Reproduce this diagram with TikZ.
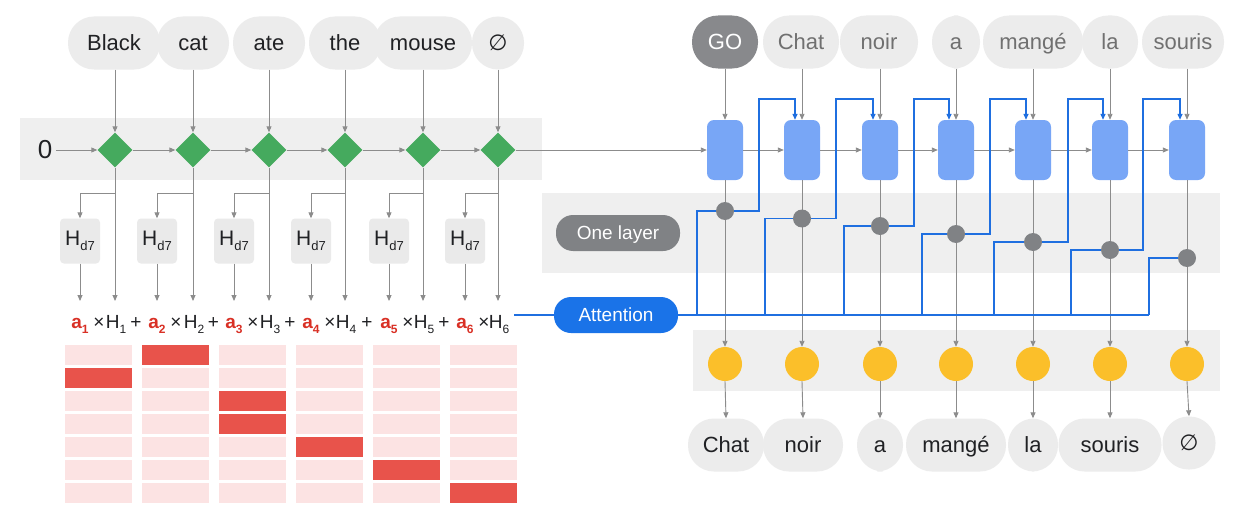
\documentclass[tikz,border=0pt]{standalone}
\usepackage{fontspec}
\setmainfont{Liberation Sans}
\newfontfamily\symf{DejaVu Sans}
\usetikzlibrary{arrows.meta,shapes.geometric,calc}
\definecolor{band}{HTML}{EFEFEF}
\definecolor{pillc}{HTML}{ECECEC}
\definecolor{gofill}{HTML}{88898C}
\definecolor{grn}{HTML}{45AA5E}
\definecolor{boxb}{HTML}{78A6F6}
\definecolor{lineb}{HTML}{1F6FE0}
\definecolor{attb}{HTML}{1A73E8}
\definecolor{ylw}{HTML}{FBBF2A}
\definecolor{dotg}{HTML}{808285}
\definecolor{arrg}{HTML}{8C8C8C}
\definecolor{ared}{HTML}{D93025}
\definecolor{cellL}{HTML}{FCE3E3}
\definecolor{cellD}{HTML}{E8534B}
\definecolor{hbox}{HTML}{EAEAEA}
\definecolor{txtg}{HTML}{707070}
\definecolor{txtk}{HTML}{202124}
\begin{document}
\begin{tikzpicture}[x=1pt,y=-1pt,
  arr/.style={draw=arrg, line width=0.9pt, -{Triangle[length=6pt,width=5pt]}},
  bl/.style={draw=lineb, line width=1.3pt},
  pill/.style={fill=pillc, rounded corners=26pt, minimum height=53pt, inner sep=0pt, text height=15pt, text depth=0pt, text=txtk, font=\fontsize{22}{26}\selectfont},
  tpill/.style={pill, text=txtg},
  gem/.style={diamond, fill=grn, minimum width=35pt, minimum height=35pt, inner sep=0pt},
  hb/.style={fill=hbox, rounded corners=4pt, minimum width=40pt, minimum height=45pt, inner sep=0pt, text=txtk, font=\fontsize{21}{24}\selectfont},
  rnn/.style={fill=boxb, rounded corners=7pt, minimum width=36pt, minimum height=60pt, inner sep=0pt},
  gdot/.style={circle, fill=dotg, minimum size=18pt, inner sep=0pt},
  ydot/.style={circle, fill=ylw, minimum size=34pt, inner sep=0pt},
  fm/.style={inner sep=0pt, text=txtk, font=\fontsize{19}{21}\selectfont, anchor=base},
  tag/.style={rounded corners=17pt, minimum width=124pt, minimum height=36pt, inner sep=0pt, text height=13.5pt, text depth=0pt, text=white, font=\fontsize{19}{22}\selectfont},
]
\useasboundingbox (0,0) rectangle (1244,511);
\fill[white] (0,0) rectangle (1244,511);
% bands
\fill[band] (20,118) rectangle (542,180);
\fill[band] (542,193) rectangle (1220,273);
\fill[band] (693,330) rectangle (1220,391);

% ---------- encoder ----------
\node[font=\fontsize{26}{30}\selectfont, text=txtk] (zero) at (45,150) {0};
\foreach \x [count=\i] in {115,193,269,345,423,498}
  \node[gem] (d\i) at (\x,150) {};
\node[pill, minimum width=92pt] (p1) at (114,43) {Black};
\node[pill, minimum width=72pt] (p2) at (193,43) {cat};
\node[pill, minimum width=72pt] (p3) at (269,43) {ate};
\node[pill, minimum width=72pt] (p4) at (345,43) {the};
\node[pill, minimum width=98pt] (p5) at (423,43) {mouse};
\node[pill, minimum width=52pt] (p6) at (498,43) {\symf ∅};
\foreach \i in {1,...,6}
  \draw[arr] (p\i.south -| d\i.north) -- (d\i.north);
\draw[arr] (zero.east) -- (d1.west);
\foreach \i/\j in {1/2,2/3,3/4,4/5,5/6}
  \draw[arr] (d\i.east) -- (d\j.west);

\foreach \dx/\bx [count=\i] in {115/80,193/157,269/234,345/311,423/389,498/465} {
  \node[hb] (hb\i) at (\bx,241) {H\raisebox{-5pt}{\fontsize{13}{13}\selectfont d7}};
  \coordinate (br\i) at (\dx,193);
  \coordinate (ha\i) at (\dx,301);
  \coordinate (aa\i) at (\bx,301);
  \node[fm,text=ared] (a\i) at (\bx,328) {\bfseries a\raisebox{-5pt}{\fontsize{12}{12}\selectfont\bfseries \i}};
  \node[fm] (x\i) at (\bx+19,328) {×};
  \node[fm] (h\i) at (\dx+1,328) {H\raisebox{-5pt}{\fontsize{12}{12}\selectfont \i}};
  \draw[arr] (d\i.south) -- (ha\i);
  \draw[arr] (br\i) -| (hb\i.north);
  \draw[arr] (hb\i.south) -- (aa\i);
}
\foreach \x [count=\i] in {136,213.5,290,367,444}
  \node[fm] (pl\i) at (\x,328) {+};

% attention grid
\foreach \c in {0,...,5}
  \foreach \r in {0,...,6}
    \fill[cellL] ({65+77*\c},{345+23*\r}) rectangle ++(67,20);
\foreach \c/\r in {0/1,1/0,2/2,2/3,3/4,4/5,5/6}
  \fill[cellD] ({65+77*\c},{345+23*\r}) rectangle ++(67,20);

% ---------- decoder ----------
\foreach \x [count=\i] in {725,802,880,956,1033,1110,1187}
  \node[rnn] (r\i) at (\x,150) {};
\node[pill, fill=gofill, text=white, minimum width=66pt] (tp1) at (725,42) {GO};
\node[tpill, minimum width=76pt] (tp2) at (801,42) {Chat};
\node[tpill, minimum width=78pt] (tp3) at (879,42) {noir};
\node[tpill, minimum width=48pt] (tp4) at (956,42) {a};
\node[tpill, minimum width=100pt] (tp5) at (1033,42) {mangé};
\node[tpill, minimum width=56pt] (tp6) at (1110,42) {la};
\node[tpill, minimum width=82pt] (tp7) at (1183,42) {souris};
\foreach \i in {1,...,7}
  \draw[arr] (r\i.north |- tp\i.south) -- (r\i.north);
\draw[arr] (d6.east) -- (r1.west);
\foreach \i/\j in {1/2,2/3,3/4,4/5,5/6,6/7}
  \draw[arr] (r\i.east) -- (r\j.west);

\node[tag, fill=dotg] (one) at (618,233) {One layer};
\node[tag, fill=attb] (att) at (616,315) {Attention};

\foreach \x [count=\i] in {725,802,880,956,1033,1110,1187}
  \node[ydot] (y\i) at (\x,364) {};
\node[pill, minimum width=76pt] (bp1) at (726,445) {Chat};
\node[pill, minimum width=80pt] (bp2) at (803,445) {noir};
\node[pill, minimum width=46pt] (bp3) at (880,445) {a};
\node[pill, minimum width=100pt] (bp4) at (956,445) {mangé};
\node[pill, minimum width=50pt] (bp5) at (1033,445) {la};
\node[pill, minimum width=103pt] (bp6) at (1110,445) {souris};
\node[pill, minimum width=53pt] (bp7) at (1189,443) {\symf ∅};

\foreach \x/\y [count=\i] in {725/211,802/218.5,880/226,956/234,1033/242,1110/250,1187/258}
  \coordinate (gc\i) at (\x,\y);
\foreach \i in {1,...,7} {
  \draw[arr] (r\i.south) -- (y\i.north);
  \draw[arr] (y\i.south) -- (bp\i.north);
}

% attention wiring
\foreach \i/\j/\xl/\xr/\y in {1/2/697/759/211,2/3/765/836/218.5,3/4/844/914/226,4/5/922/990/234,5/6/994/1068/242,6/7/1071/1143/250} {
  \coordinate (at\i) at (\xl,315);
  \draw[bl, -{Triangle[length=6pt,width=5pt]}] (at\i) |- (\xr,\y) -- (\xr,99) -| ([xshift=-7pt]r\j.north);
}
\coordinate (at7) at (1149,315);
\draw[bl] (at7) |- (gc7);
\draw[bl] (att.east) -- (at7);
\draw[bl] ([xshift=5pt]h6.east |- att.west) -- (att.west);

\foreach \i in {1,...,7}
  \node[gdot] (g\i) at (gc\i) {};
\end{tikzpicture}
\end{document}
